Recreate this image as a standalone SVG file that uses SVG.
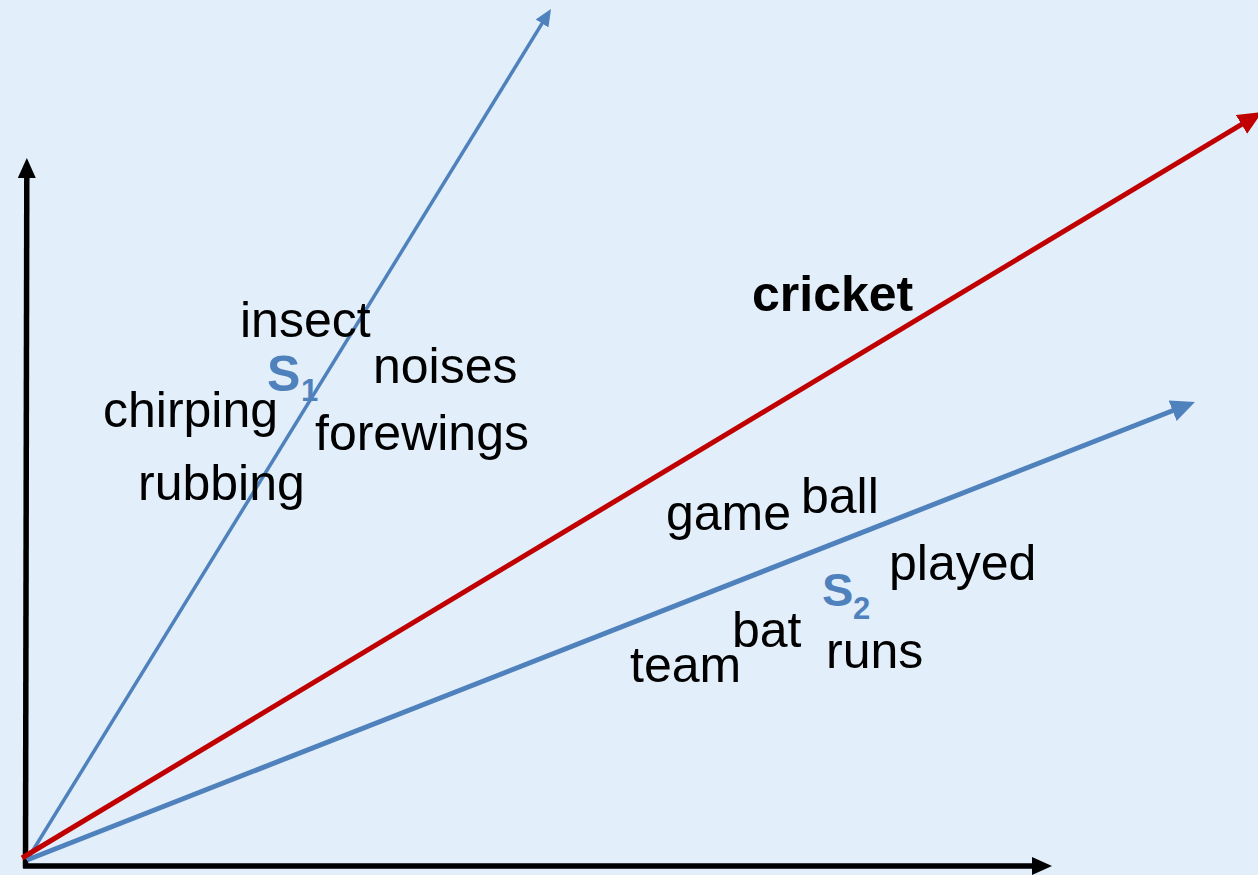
<svg xmlns="http://www.w3.org/2000/svg" width="1258" height="875" viewBox="0 0 1258 875">
<defs>
<style>
.w{font-family:"Liberation Sans",Arial,sans-serif;font-size:50px;fill:#000}
.b{font-weight:bold}
.s{font-family:"Liberation Sans",Arial,sans-serif;font-weight:bold;fill:#4f81bd}
.ax{stroke:#000;stroke-width:5.5;fill:none}
.bl{stroke:#4f81bd;fill:none}
.rd{stroke:#c00000;stroke-width:5;fill:none}
</style>
<marker id="ak" markerUnits="userSpaceOnUse" markerWidth="20" markerHeight="18" refX="6" refY="9" orient="auto"><path d="M0,0 L20,9 L0,18 z" fill="#000"/></marker>
<marker id="ab1" markerUnits="userSpaceOnUse" markerWidth="17" markerHeight="15" refX="5" refY="7.5" orient="auto"><path d="M0,0 L17,7.5 L0,15 z" fill="#4f81bd"/></marker>
<marker id="ab2" markerUnits="userSpaceOnUse" markerWidth="24" markerHeight="22" refX="6" refY="11" orient="auto"><path d="M0,0 L24,11 L0,22 z" fill="#4f81bd"/></marker>
<marker id="ar" markerUnits="userSpaceOnUse" markerWidth="24" markerHeight="22" refX="6" refY="11" orient="auto"><path d="M0,0 L24,11 L0,22 z" fill="#c00000"/></marker>
</defs>
<rect width="1258" height="875" fill="#e2eef9"/>
<g id="connectors">
<line id="y-axis" class="ax" x1="25.5" y1="868" x2="26.8" y2="172" marker-end="url(#ak)"/>
<line id="x-axis" class="ax" x1="23" y1="866" x2="1038" y2="866" marker-end="url(#ak)"/>
<line id="s1-vec" class="bl" stroke-width="3.5" x1="27" y1="860" x2="544.7" y2="19.2" marker-end="url(#ab1)"/>
<line id="s2-vec" class="bl" stroke-width="5" x1="27" y1="860" x2="1178.2" y2="408.5" marker-end="url(#ab2)"/>
<line id="cricket-vec" class="rd" x1="22" y1="858" x2="1246.6" y2="121.3" marker-end="url(#ar)"/>
</g>
<g id="s1-words">
<text class="w" x="240" y="337">insect</text>
<text class="w" x="373" y="383">noises</text>
<text class="w" x="103" y="427">chirping</text>
<text class="w" x="315" y="450">forewings</text>
<text class="w" x="138" y="500">rubbing</text>
</g>
<g id="s1-label">
<text class="s" x="267" y="391" font-size="50">S</text>
<text class="s" x="301" y="401" font-size="31">1</text>
</g>
<g id="cricket-label">
<text class="w b" x="752" y="311">cricket</text>
</g>
<g id="s2-words">
<text class="w" x="666" y="530">game</text>
<text class="w" x="801" y="513">ball</text>
<text class="w" x="889" y="580">played</text>
<text class="w" x="732" y="647">bat</text>
<text class="w" x="630" y="682">team</text>
<text class="w" x="826" y="668">runs</text>
</g>
<g id="s2-label">
<text class="s" x="822" y="606" font-size="47">S</text>
<text class="s" x="853" y="619" font-size="31">2</text>
</g>
</svg>
